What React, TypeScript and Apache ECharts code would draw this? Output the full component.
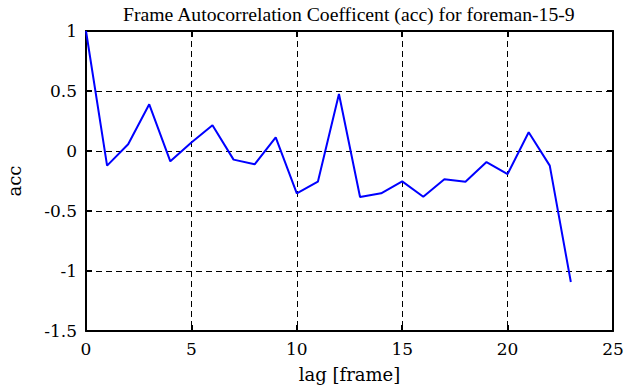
import React, { useEffect, useRef } from "react";
import * as echarts from "echarts";

const lags = [0, 1, 2, 3, 4, 5, 6, 7, 8, 9, 10, 11, 12, 13, 14, 15, 16, 17, 18, 19, 20, 21, 22, 23];
const acc = [1, -0.122, 0.056, 0.389, -0.086, 0.07, 0.214, -0.072, -0.111, 0.114, -0.353, -0.256, 0.475, -0.383, -0.353, -0.253, -0.381, -0.236, -0.256, -0.092, -0.192, 0.156, -0.122, -1.092];

const titleText = "Frame Autocorrelation Coefficent (acc) for foreman-15-9";
const xName = "lag [frame]";
const yName = "acc";

const TITLE_FONT = "Liberation Serif";
const AXIS_FONT = "DejaVu Serif";

export default function App() {
  const ref = useRef<HTMLDivElement>(null);
  useEffect(() => {
    if (!ref.current) return;
    const chart = echarts.init(ref.current, null, { renderer: "svg" });
    const dashed = { show: true, lineStyle: { color: "#000", type: [6, 4] as any, width: 1 } };
    const axisLine = { show: true, onZero: false, lineStyle: { color: "#000", width: 2 } };
    const tick = { show: true, inside: true, length: 6, lineStyle: { color: "#000", width: 2 } };
    const labelStyle = { fontFamily: AXIS_FONT, fontSize: 17, color: "#000", fontWeight: "normal" as const };
    const nameStyle = { fontFamily: AXIS_FONT, fontSize: 18, color: "#000", fontWeight: "normal" as const };
    chart.setOption({
      animation: false,
      backgroundColor: "#fff",
      textStyle: { fontFamily: AXIS_FONT, color: "#000" },
      title: {
        text: titleText,
        left: 118,
        top: -1,
        textStyle: { fontFamily: TITLE_FONT, fontWeight: "normal", fontSize: 19.7, color: "#000" },
      },
      grid: { left: 86, right: 22, top: 31, bottom: 56, containLabel: false, outerBoundsMode: "none" } as any,
      xAxis: [
        {
          type: "value",
          min: 0,
          max: 25,
          interval: 5,
          name: xName,
          nameLocation: "middle",
          nameGap: 34,
          nameTextStyle: nameStyle,
          axisLine,
          axisTick: tick,
          axisLabel: { ...labelStyle, margin: 9 },
          splitLine: dashed,
        },
        {
          type: "value",
          position: "top",
          min: 0,
          max: 25,
          interval: 5,
          axisLine,
          axisTick: tick,
          axisLabel: { show: false },
          splitLine: { show: false },
        },
      ],
      yAxis: [
        {
          type: "value",
          min: -1.5,
          max: 1,
          interval: 0.5,
          name: yName,
          nameLocation: "middle",
          nameGap: 63,
          nameTextStyle: nameStyle,
          axisLine,
          axisTick: tick,
          axisLabel: { ...labelStyle, margin: 9 },
          splitLine: dashed,
        },
        {
          type: "value",
          position: "right",
          min: -1.5,
          max: 1,
          interval: 0.5,
          axisLine,
          axisTick: tick,
          axisLabel: { show: false },
          splitLine: { show: false },
        },
      ],
      series: [
        {
          type: "line",
          data: lags.map((l, i) => [l, acc[i]]),
          showSymbol: false,
          symbol: "none",
          lineStyle: { color: "#0000ff", width: 2 },
          xAxisIndex: 0,
          yAxisIndex: 0,
        },
      ],
    });
    return () => chart.dispose();
  }, []);
  return <div ref={ref} style={{ width: 635, height: 387, position: "absolute", left: 0, top: 0 }} />;
}
